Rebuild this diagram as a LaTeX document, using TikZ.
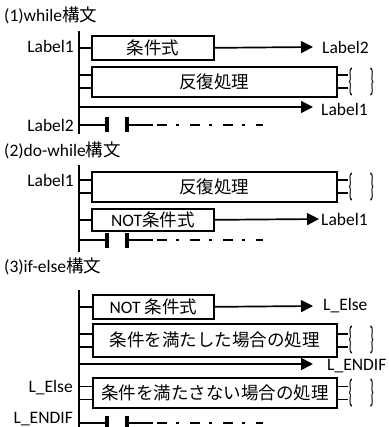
\documentclass[tikz,border=0pt]{standalone}
\usepackage{graphicx}
\usepackage{fontspec}
\setmainfont{Carlito}
\newfontfamily\jp{Noto Sans CJK JP}
\usetikzlibrary{arrows.meta}

\begin{document}
\begin{tikzpicture}[x=1pt,y=-1pt,
    rung/.style={line width=1.7pt},
    box/.style={draw,line width=1.7pt,inner sep=0pt,anchor=north west,font=\fontsize{17.5}{20}\selectfont},
    lbl/.style={inner sep=0pt,font=\fontsize{17.5}{20}\selectfont},
    jump/.style={line width=1.7pt,-{Triangle[length=12pt,width=12pt]}},
    ctc/.style={line width=3.5pt},
    brc/.style={inner sep=0pt,font=\fontsize{17}{20}\selectfont}]
    \useasboundingbox (0,0) rectangle (388,427);

    % (1) while
    \node[lbl,anchor=west] (ttlA) at (4,15) {(1)while{\jp 構文}};
    \coordinate (railA) at (79,31);
    \draw[rung] (railA) -- (79,134);
    \node[box,minimum width=122pt,minimum height=24pt] (condA) at (91,35) {\jp 条件式};
    \node[lbl,anchor=east] (lblA1) at (74,46) {Label1};
    \draw[rung] (railA |- condA.west) -- (condA.west);
    \coordinate (tipA) at (313,47);
    \draw[jump] (condA.east) -- (tipA);
    \node[lbl,anchor=west] (lblA2) at (322,47) {Label2};
    \node[box,minimum width=245pt,minimum height=30pt] (procA) at (91,66) {\jp 反復処理};
    \coordinate (retA) at (313,107);
    \draw[jump] (railA |- retA) -- (retA);
    \node[lbl,anchor=west] (lblA3) at (321,109) {Label1};
    \coordinate (ctA) at (107,125);
    \node[lbl,anchor=east] (lblA4) at (74,125) {Label2};
    \draw[rung] (railA |- ctA) -- (ctA);

    % (2) do-while
    \node[lbl,anchor=west] (ttlB) at (4,150) {(2)do-while{\jp 構文}};
    \coordinate (railB) at (79,165);
    \draw[rung] (railB) -- (79,252);
    \node[box,minimum width=245pt,minimum height=30pt] (procB) at (91,171) {\jp 反復処理};
    \node[lbl,anchor=east] (lblB1) at (74,180) {Label1};
    \node[box,minimum width=122pt,minimum height=22pt] (condB) at (91,208) {NOT{\jp 条件式}};
    \draw[rung] (railB |- condB.west) -- (condB.west);
    \coordinate (tipB) at (319,219);
    \draw[jump] (condB.east) -- (tipB);
    \node[lbl,anchor=west] (lblB2) at (321,219) {Label1};
    \coordinate (ctB) at (107,240);
    \draw[rung] (railB |- ctB) -- (ctB);

    % (3) if-else
    \node[lbl,anchor=west] (ttlC) at (4,266) {(3)if-else{\jp 構文}};
    \coordinate (railC) at (79,290);
    \draw[rung] (railC) -- (79,430);
    \node[box,minimum width=121pt,minimum height=24pt] (condC) at (92,294) {NOT {\jp 条件式}};
    \draw[rung] (railC |- condC.west) -- (condC.west);
    \coordinate (tipC) at (313,306);
    \draw[jump] (condC.east) -- (tipC);
    \node[lbl,anchor=west] (lblC1) at (323,306) {L\_Else};
    \node[box,minimum width=244pt,minimum height=33pt] (procC) at (92,323) {\jp 条件を満たした場合の処理};
    \coordinate (retC) at (313,364);
    \draw[jump] (railC |- retC) -- (retC);
    \node[lbl,anchor=west] (lblC2) at (327,366) {L\_ENDIF};
    \node[box,minimum width=244pt,minimum height=30pt] (elseC) at (92,377) {\jp 条件を満たさない場合の処理};
    \node[lbl,anchor=east] (lblC3) at (73,388) {L\_Else};
    \node[lbl,anchor=east] (lblC4) at (73,419) {L\_ENDIF};
    \coordinate (ctC) at (107,423);
    \draw[rung] (railC |- ctC) -- (ctC);

    % stubs and braces of the blocks
    \foreach \b/\r in {procA/railA,procB/railB,procC/railC,elseC/railC} {
        \path ([yshift=6.5pt]\b.west) coordinate (\b-in1) ([yshift=-6.5pt]\b.west) coordinate (\b-in2)
              ([yshift=6.5pt]\b.east) coordinate (\b-out1) ([yshift=-6.5pt]\b.east) coordinate (\b-out2);
        \draw[rung] (\r |- \b-in1) -- (\b-in1);
        \draw[rung] (\r |- \b-in2) -- (\b-in2);
        \draw[rung] (\b-out1) -- ++(10,0);
        \draw[rung] (\b-out2) -- ++(10,0);
        \node[brc] (\b-open) at ([xshift=13pt]\b.east) {\scalebox{0.8}[1.9]{\{}};
        \node[brc] (\b-close) at ([xshift=34pt]\b.east) {\scalebox{0.8}[1.9]{\}}};
    }

    % contacts
    \foreach \c in {ctA,ctB,ctC} {
        \draw[ctc] (\c) ++(0,-7.5) -- ++(0,15);
        \draw[ctc] (\c) ++(20,-7.5) -- ++(0,15);
        \draw[rung] (\c) ++(20,0) -- ++(26,0);
        \draw[rung,dash pattern=on 10pt off 9pt on 3pt off 11pt] (\c) ++(50,0) -- ++(106,0);
    }
\end{tikzpicture}
\end{document}
